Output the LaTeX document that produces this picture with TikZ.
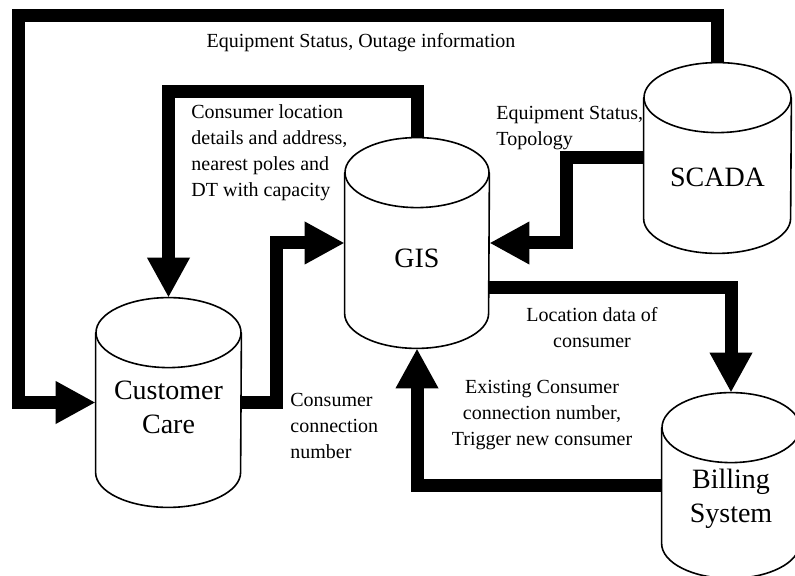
\documentclass[tikz,border=0pt]{standalone}
\usepackage{fontspec}
\setmainfont{Liberation Serif}
\usetikzlibrary{arrows.meta}

\tikzset{
  db/.style={inner sep=0pt},
  dbline/.style={line width=0.8pt, fill=white},
  dbtext/.style={font=\fontsize{14}{17}\selectfont, align=center, inner sep=0pt},
  lbl/.style={font=\fontsize{10}{13}\selectfont, inner sep=0pt},
  flow/.style={line width=6.5pt, -{Triangle[length=20pt,width=20pt]}}
}

\begin{document}
\begin{tikzpicture}[x=0.5pt,y=-0.5pt]
  \useasboundingbox (0,0) rectangle (795,576);
  \clip (0,0) rectangle (795,576);

  % Databases
  \node[db, minimum width=72.5pt, minimum height=104.5pt] (care) at (168.5,402.5) {};
  \node[db, minimum width=72pt, minimum height=105pt] (gis) at (417,243) {};
  \node[db, minimum width=73.5pt, minimum height=95pt] (scada) at (717.5,158) {};
  \node[db, minimum width=69pt, minimum height=92.5pt] (bill) at (731,485.5) {};

  \foreach \n/\rx in {care/36.25,gis/36,scada/36.75,bill/34.5}{
    \draw[dbline] ([yshift=-17.5pt]\n.north west) -- ([yshift=17.5pt]\n.south west)
      arc[start angle=180, end angle=360, x radius=\rx pt, y radius=17.5pt]
      -- ([yshift=-17.5pt]\n.north east);
    \draw[dbline] ([yshift=-17.5pt]\n.north) ellipse[x radius=\rx pt, y radius=17.5pt];
  }

  \node[dbtext] (caretxt) at ([yshift=-2.5pt]care) {Customer\\Care};
  \node[dbtext] (gistxt) at ([yshift=-7.5pt]gis) {GIS};
  \node[dbtext] (scadatxt) at ([yshift=-9.5pt]scada) {SCADA};
  \node[dbtext] (billtxt) at ([yshift=-6.5pt]bill) {Billing\\System};

  % Data flows
  \coordinate (outer) at (18,16);
  \draw[flow] (scada.north) |- (outer) |- (care.west);
  \draw[flow] (gis.north) -- ++(0,-46) -| (care.north);
  \draw[flow] (care.east) -- ++(35,0) |- (gis.west);
  \draw[flow] (scada.west) -- ++(-77,0) |- (gis.east);
  \draw[flow] ([yshift=-22.5pt]gis.east) -| (bill.north);
  \draw[flow] (bill.west) -| (gis.south);

  % Labels
  \node[lbl] (outage) at (361,43) {Equipment Status, Outage information};
  \node[lbl, anchor=west, align=left] (locdet) at (191,153)
    {Consumer location\\details and address,\\nearest poles and\\DT with capacity};
  \node[lbl, anchor=west, align=left] (topo) at (496,128) {Equipment Status,\\Topology};
  \node[lbl, align=center] (locdata) at (592,328) {Location data of\\consumer};
  \node[lbl, align=center] (exist) at (542,415)
    {Existing Consumer\\connection number,\\Trigger new consumer};
  \node[lbl, anchor=west, align=left] (connno) at (290,426) {Consumer\\connection\\number};
\end{tikzpicture}
\end{document}
